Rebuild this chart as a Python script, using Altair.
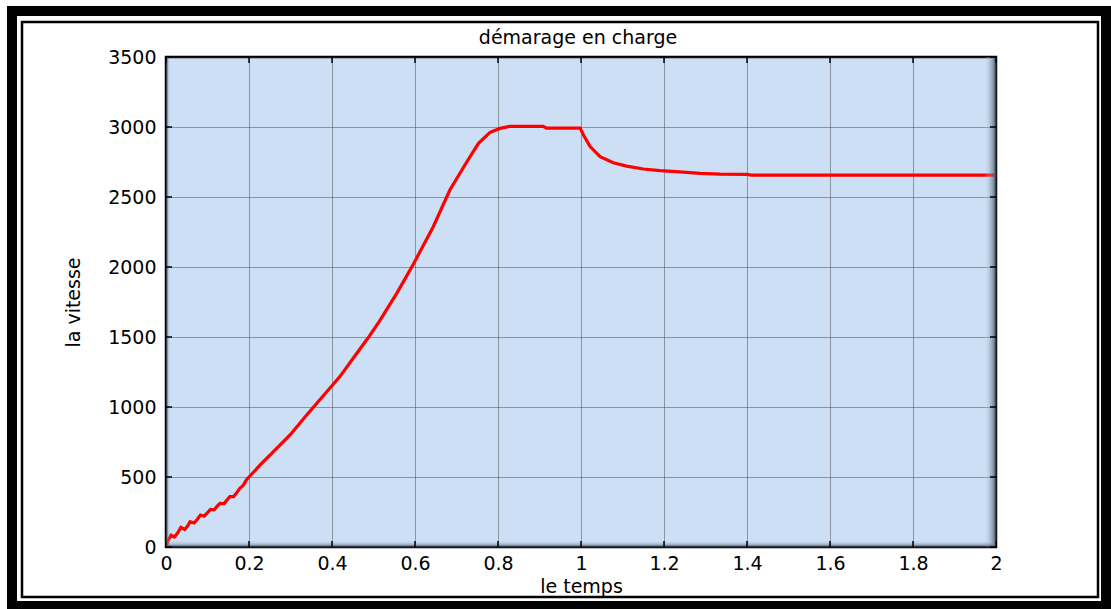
import altair as alt
import pandas as pd

# Texts
title_text = "démarage en charge"
x_title = "le temps"
y_title = "la vitesse"

# Speed curve: time (s) and speed (tr/min)
t_vals = [
    0.000, 0.005, 0.012, 0.020, 0.028, 0.036, 0.045, 0.052, 0.058, 0.068,
    0.076, 0.083, 0.092, 0.100, 0.107, 0.116, 0.123, 0.130, 0.140, 0.147,
    0.154, 0.163, 0.171, 0.178, 0.186, 0.194, 0.200, 0.227, 0.259, 0.299,
    0.339, 0.391, 0.419, 0.455, 0.488, 0.516, 0.556, 0.596, 0.644, 0.684,
    0.725, 0.753, 0.781, 0.805, 0.829, 0.909, 0.917, 0.998, 1.006, 1.022,
    1.046, 1.078, 1.110, 1.150, 1.190, 1.230, 1.287, 1.335, 1.400, 1.410,
    2.000,
]
v_vals = [
    0, 45, 85, 72, 100, 140, 125, 150, 181, 172,
    200, 228, 220, 245, 268, 265, 290, 312, 310, 335,
    360, 360, 390, 419, 440, 480, 500, 586, 681, 800,
    943, 1121, 1217, 1364, 1498, 1621, 1812, 2020, 2288, 2550,
    2752, 2883, 2962, 2990, 3005, 3005, 2992, 2992, 2943, 2860,
    2788, 2745, 2721, 2700, 2688, 2681, 2669, 2664, 2662, 2656,
    2656,
]

x_ticks = [0, 0.2, 0.4, 0.6, 0.8, 1, 1.2, 1.4, 1.6, 1.8, 2]
y_ticks = [0, 500, 1000, 1500, 2000, 2500, 3000, 3500]

FONT = "DejaVu Sans"
BG = "#cddff5"
W, H = 830, 490

curve = pd.DataFrame({"t": t_vals, "v": v_vals})
xt = pd.DataFrame({"t": x_ticks})
yt = pd.DataFrame({"v": y_ticks})
one = pd.DataFrame({"label": [title_text]})

x_scale = alt.Scale(domain=[0, 2], nice=False, zero=False)
y_scale = alt.Scale(domain=[0, 3500], nice=False)

x_axis = alt.Axis(values=x_ticks, format="~g", title=x_title, grid=True,
                  ticks=False, domain=False, labelFlush=False,
                  labelPadding=7, titlePadding=4)
y_axis = alt.Axis(values=y_ticks, format="d", title=y_title, grid=True,
                  ticks=False, domain=False, labelFlush=False,
                  labelPadding=10, titlePadding=24)

X = alt.X("t:Q", scale=x_scale, axis=x_axis)
Y = alt.Y("v:Q", scale=y_scale, axis=y_axis)

# Main curve
line = alt.Chart(curve).mark_line(color="#ff0000", strokeWidth=3.2, clip=True).encode(x=X, y=Y)

# Inward tick marks on the four sides of the box
tick_style = dict(color="black", strokeWidth=1.5)
xt_bottom = alt.Chart(xt).mark_rule(**tick_style).encode(x=X, y=alt.value(H), y2=alt.value(H - 6))
xt_top = alt.Chart(xt).mark_rule(**tick_style).encode(x=X, y=alt.value(0), y2=alt.value(6))
yt_left = alt.Chart(yt).mark_rule(**tick_style).encode(y=Y, x=alt.value(0), x2=alt.value(6))
yt_right = alt.Chart(yt).mark_rule(**tick_style).encode(y=Y, x=alt.value(W - 6), x2=alt.value(W))


def shade(stops, x1, x2, y1, y2, px0, px1, py0, py1):
    return alt.Chart(one).mark_rect(
        color=alt.Gradient(
            gradient="linear",
            stops=[alt.GradientStop(color=c, offset=o) for c, o in stops],
            x1=x1, x2=x2, y1=y1, y2=y2,
        )
    ).encode(x=alt.value(px0), x2=alt.value(px1), y=alt.value(py0), y2=alt.value(py1))


# Bevel shading along the edges of the axes box
clear = "rgba(205,223,245,0)"
right_shade = shade([(clear, 0), ("rgba(60,75,92,0.85)", 1)], 0, 1, 0, 0, W - 12, W, 0, H)
bottom_shade = shade([(clear, 0), ("rgba(60,75,92,0.7)", 1)], 0, 0, 0, 1, 0, W, H - 7, H)
left_shade = shade([("rgba(60,75,92,0.6)", 0), (clear, 1)], 0, 1, 0, 0, 0, 5, 0, H)

# Chart title
title = alt.Chart(one).mark_text(
    font=FONT, fontSize=19, color="#000", align="center", baseline="middle"
).encode(x=alt.value(W / 2 - 3), y=alt.value(-19), text="label:N")

# Double frame around the whole figure
frame_outer = alt.Chart(one).mark_rect(fill="transparent", stroke="black", strokeWidth=10).encode(
    x=alt.value(-154), x2=alt.value(940), y=alt.value(-46), y2=alt.value(549))
frame_inner = alt.Chart(one).mark_rect(fill="transparent", stroke="black", strokeWidth=2.5).encode(
    x=alt.value(-144), x2=alt.value(932), y=alt.value(-35), y2=alt.value(540))

chart = alt.layer(
    line,
    left_shade, right_shade, bottom_shade,
    xt_bottom, xt_top, yt_left, yt_right,
    title, frame_outer, frame_inner,
).properties(
    width=W,
    height=H,
    padding={"left": 166, "top": 57, "right": 115, "bottom": 62},
    autosize=alt.AutoSizeParams(type="none"),
    background="white",
).configure_view(
    fill=BG, stroke="black", strokeWidth=2.5,
).configure_axis(
    labelFont=FONT, labelFontSize=19, labelColor="#000",
    titleFont=FONT, titleFontSize=19, titleFontWeight="normal", titleColor="#000",
    gridColor="#333333", gridDash=[1, 1], gridOpacity=0.85, gridWidth=1,
)

chart.save("out.html", embed_options={"renderer": "svg", "actions": False})
